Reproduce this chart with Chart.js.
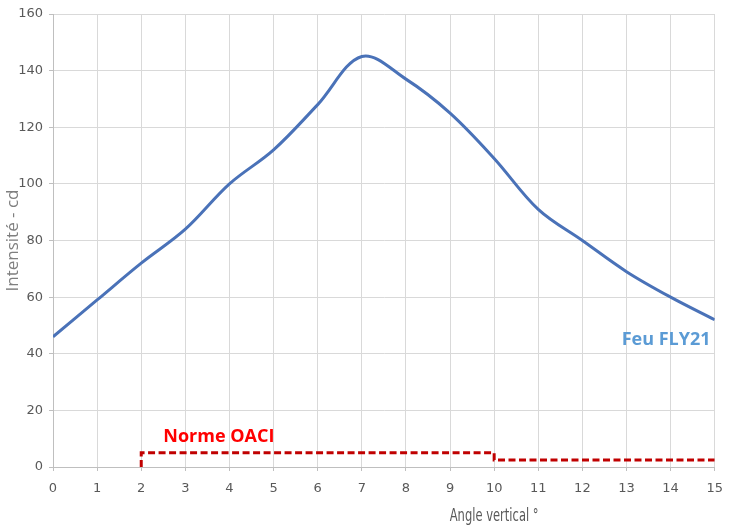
<!DOCTYPE html>
<html>
<head>
<meta charset="utf-8">
<script src="https://cdn.jsdelivr.net/npm/chart.js@4"></script>
<style>
  html, body { margin: 0; padding: 0; background: #fff; }
  #wrap { width: 733px; height: 529px; }
</style>
</head>
<body>
<div id="wrap"><canvas id="chart" width="733" height="529"></canvas></div>
<script>
// Values
const angles = [0, 1, 2, 3, 4, 5, 6, 7, 8, 9, 10, 11, 12, 13, 14, 15];
const intensity = [46, 59, 72, 84, 100, 112, 128, 145, 137, 125, 109, 91, 80, 69, 60, 52];
const normeAngles = [2, 2, 10, 10, 15];
const normeValues = [0, 5, 5, 2.5, 2.5];
const yTicks = [0, 20, 40, 60, 80, 100, 120, 140, 160];

const tickFont = "'DejaVu Sans', sans-serif";

// Text labels drawn over the chart
const labelsPlugin = {
    id: 'labels',
    afterDraw(chart) {
        const ctx = chart.ctx;
        const x = chart.scales.x;
        const y = chart.scales.y;
        ctx.save();
        ctx.textBaseline = 'middle';
        ctx.textAlign = 'left';

        ctx.font = "bold 18px 'Open Sans', sans-serif";
        ctx.fillStyle = '#5b9bd5';
        ctx.fillText('Feu FLY21', x.getPixelForValue(12.89), y.getPixelForValue(45));

        ctx.fillStyle = '#ff0000';
        ctx.fillText('Norme OACI', x.getPixelForValue(2.5), y.getPixelForValue(10.5));

        // narrow axis title, squeezed horizontally
        ctx.textAlign = 'center';
        ctx.font = '16px ' + tickFont;
        ctx.fillStyle = '#595959';
        ctx.translate(x.getPixelForValue(10), 517);
        ctx.scale(0.72, 1.05);
        ctx.fillText('Angle vertical °', 0, 0);
        ctx.restore();
    }
};

new Chart(document.getElementById('chart'), {
    type: 'line',
    data: {
        datasets: [{
            label: 'Feu FLY21',
            data: angles.map((a, i) => ({ x: a, y: intensity[i] })),
            borderColor: '#4a72b8',
            borderWidth: 3,
            pointRadius: 0,
            tension: 0.35,
            fill: false,
        }, {
            label: 'Norme OACI',
            data: normeAngles.map((a, i) => ({ x: a, y: normeValues[i] })),
            borderColor: '#c00000',
            borderWidth: 3,
            borderDash: [7, 3.5],
            pointRadius: 0,
            tension: 0,
            fill: false,
        }],
    },
    options: {
        responsive: false,
        animation: false,
        layout: { padding: { top: 14, right: 18, left: 0, bottom: 0 } },
        plugins: {
            legend: { display: false },
            tooltip: { enabled: false },
        },
        scales: {
            x: {
                type: 'linear',
                min: 0,
                max: 15,
                ticks: {
                    stepSize: 1,
                    padding: 10,
                    color: '#595959',
                    font: { size: 13, family: tickFont },
                    maxRotation: 0,
                },
                grid: { color: '#d9d9d9', tickLength: 4, tickColor: '#bfbfbf' },
                border: { color: '#bfbfbf' },
                afterFit: s => { s.height = 62; },
            },
            y: {
                min: 0,
                max: 160,
                afterBuildTicks: s => { s.ticks = yTicks.map(v => ({ value: v })); },
                ticks: {
                    padding: 6,
                    color: '#595959',
                    font: { size: 13, family: tickFont },
                },
                grid: { color: '#d9d9d9', tickLength: 4, tickColor: '#bfbfbf' },
                border: { color: '#bfbfbf' },
                title: {
                    display: true,
                    text: 'Intensité - cd',
                    color: '#7f7f7f',
                    font: { size: 17, family: "'Open Sans', sans-serif" },
                    padding: { top: 3, bottom: 4 },
                },
                afterFit: s => { s.width = 53; },
            },
        },
    },
    plugins: [labelsPlugin],
});
</script>
</body>
</html>
